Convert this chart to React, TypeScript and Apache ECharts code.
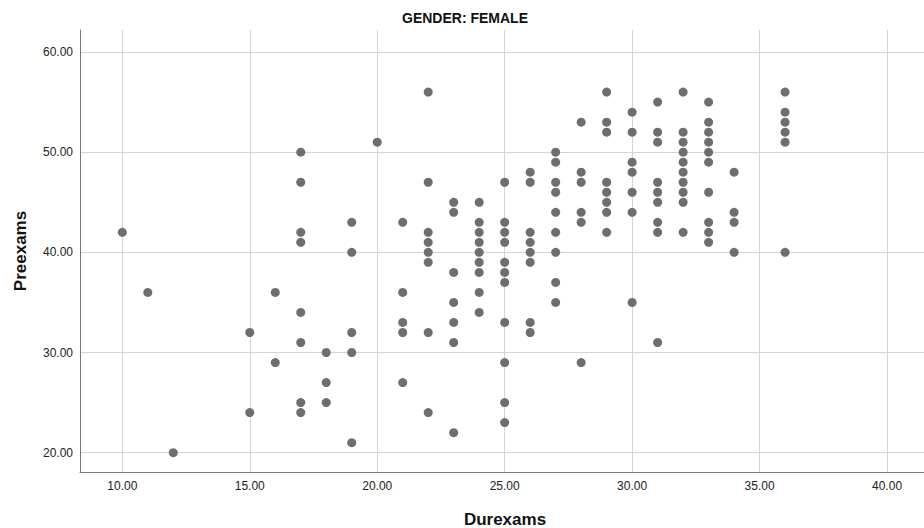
import React, { useEffect, useRef } from "react";
import * as echarts from "echarts";

// Durexams values (x) and the Preexams values (y) observed at each of them
const durexamsValues = [10, 11, 12, 15, 16, 17, 18, 19, 20, 21, 22, 23, 24, 25, 26, 27, 28, 29, 30, 31, 32, 33, 34, 36];
const preexamsAt10 = [42];
const preexamsAt11 = [36];
const preexamsAt12 = [20];
const preexamsAt15 = [32, 24];
const preexamsAt16 = [36, 29];
const preexamsAt17 = [50, 47, 42, 41, 34, 31, 25, 24];
const preexamsAt18 = [30, 27, 25];
const preexamsAt19 = [43, 40, 32, 30, 21];
const preexamsAt20 = [51];
const preexamsAt21 = [43, 36, 33, 32, 27];
const preexamsAt22 = [56, 47, 42, 41, 40, 39, 32, 24];
const preexamsAt23 = [45, 44, 38, 35, 33, 31, 22];
const preexamsAt24 = [45, 43, 42, 41, 40, 39, 38, 36, 34];
const preexamsAt25 = [47, 43, 42, 41, 39, 38, 37, 33, 29, 25, 23];
const preexamsAt26 = [48, 47, 42, 41, 40, 39, 33, 32];
const preexamsAt27 = [50, 49, 47, 46, 44, 42, 40, 37, 35];
const preexamsAt28 = [53, 48, 47, 44, 43, 29];
const preexamsAt29 = [56, 53, 52, 47, 46, 45, 44, 42];
const preexamsAt30 = [54, 52, 49, 48, 46, 44, 35];
const preexamsAt31 = [55, 52, 51, 47, 46, 45, 43, 42, 31];
const preexamsAt32 = [56, 52, 51, 50, 49, 48, 47, 46, 45, 42];
const preexamsAt33 = [55, 53, 52, 51, 50, 49, 46, 43, 42, 41];
const preexamsAt34 = [48, 44, 43, 40];
const preexamsAt36 = [56, 54, 53, 52, 51, 40];

const preexamsGroups = [
  preexamsAt10, preexamsAt11, preexamsAt12, preexamsAt15, preexamsAt16, preexamsAt17,
  preexamsAt18, preexamsAt19, preexamsAt20, preexamsAt21, preexamsAt22, preexamsAt23,
  preexamsAt24, preexamsAt25, preexamsAt26, preexamsAt27, preexamsAt28, preexamsAt29,
  preexamsAt30, preexamsAt31, preexamsAt32, preexamsAt33, preexamsAt34, preexamsAt36,
];

const titleText = "GENDER: FEMALE";
const xAxisTitle = "Durexams";
const yAxisTitle = "Preexams";

const FONT = "'Liberation Sans', Arial, Helvetica, sans-serif";

export default function App() {
  const ref = useRef<HTMLDivElement>(null);

  useEffect(() => {
    if (!ref.current) return;
    const chart = echarts.init(ref.current, undefined, { renderer: "svg" });

    const points: number[][] = [];
    durexamsValues.forEach((x, i) => {
      preexamsGroups[i].forEach((y) => points.push([x, y]));
    });

    const labelStyle = {
      fontFamily: FONT,
      fontSize: 12,
      color: "#222222",
      formatter: (v: number) => v.toFixed(2),
      showMinLabel: false,
      showMaxLabel: false,
      margin: 7,
    };

    chart.setOption({
      animation: false,
      backgroundColor: "#ffffff",
      grid: { left: 80, top: 30, right: 0, bottom: 55.3, containLabel: false },
      xAxis: {
        type: "value",
        min: 8.34,
        max: 41.45,
        splitNumber: 6,
        axisLine: { show: true, lineStyle: { color: "#7a7a7a", width: 1 } },
        axisTick: { show: false },
        axisLabel: labelStyle,
        splitLine: { show: true, showMinLine: false, showMaxLine: false, lineStyle: { color: "#d4d4d4", width: 1 } },
      },
      yAxis: {
        type: "value",
        min: 18,
        max: 62.2,
        splitNumber: 5,
        axisLine: { show: true, lineStyle: { color: "#7a7a7a", width: 1 } },
        axisTick: { show: false },
        axisLabel: labelStyle,
        splitLine: { show: true, showMinLine: false, showMaxLine: false, lineStyle: { color: "#d4d4d4", width: 1 } },
      },
      series: [
        {
          type: "scatter",
          data: points,
          symbol: "circle",
          symbolSize: 9,
          itemStyle: { color: "#6e6e6e", opacity: 1 },
          silent: true,
        },
      ],
      graphic: [
        {
          type: "text",
          x: 465,
          y: 18,
          style: {
            text: titleText,
            align: "center",
            verticalAlign: "middle",
            fontFamily: FONT,
            fontWeight: "bold",
            fontSize: 14,
            fill: "#111111",
          },
        },
        {
          type: "text",
          x: 505,
          y: 519,
          style: {
            text: xAxisTitle,
            align: "center",
            verticalAlign: "middle",
            fontFamily: FONT,
            fontWeight: "bold",
            fontSize: 17,
            fill: "#111111",
          },
        },
        {
          type: "text",
          x: 20,
          y: 251,
          rotation: Math.PI / 2,
          style: {
            text: yAxisTitle,
            align: "center",
            verticalAlign: "middle",
            fontFamily: FONT,
            fontWeight: "bold",
            fontSize: 17,
            fill: "#111111",
          },
        },
      ],
    });

    return () => chart.dispose();
  }, []);

  return (
    <div
      ref={ref}
      style={{ position: "fixed", left: 0, top: 0, width: 924, height: 528, background: "#fff" }}
    />
  );
}
